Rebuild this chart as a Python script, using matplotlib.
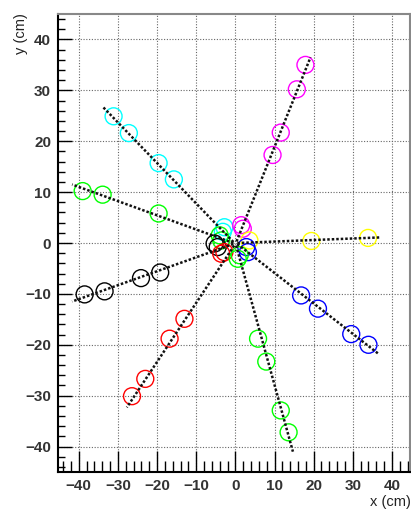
# Track reconstruction view: hit circles per track and fitted track lines

import matplotlib
matplotlib.use("Agg")
import matplotlib.pyplot as plt
from matplotlib.ticker import MultipleLocator

plt.rcParams['font.family'] = ['Liberation Sans', 'DejaVu Sans']

colors = ['cyan', 'lime', 'black', 'red', 'magenta', 'yellow', 'blue', 'lime']

# hits on each track (outer layers)
hit_x = [
    [-31.1, -27.2, -19.6, -15.7],
    [-39.0, -33.9, -19.6],
    [-38.5, -33.4, -24.1, -19.2],
    [-13.0, -16.8, -23.0, -26.4],
    [17.9, 15.7, 11.6, 9.5],
    [19.4, 33.9],
    [16.8, 21.1, 29.6, 34.0],
    [5.8, 7.9, 11.6, 13.6],
]
hit_y = [
    [24.9, 21.6, 15.7, 12.5],
    [10.2, 9.5, 5.8],
    [-10.1, -9.5, -6.9, -5.8],
    [-14.9, -18.8, -26.7, -30.1],
    [35.0, 30.2, 21.7, 17.3],
    [0.4, 1.0],
    [-10.3, -12.9, -17.9, -20.0],
    [-18.8, -23.3, -32.9, -37.2],
]

# hits near the vertex
inner_x = [
    [-2.8, -3.2],
    [-4.0, -3.6],
    [-5.3, -4.5],
    [-3.6, -2.8],
    [1.5, 1.9],
    [3.6],
    [2.8, 3.2],
    [0.6, 1.1],
]
inner_y = [
    [3.1, 2.2],
    [1.5, 0.5],
    [-0.1, -0.8],
    [-2.1, -1.8],
    [3.5, 2.8],
    [0.5],
    [-0.8, -1.8],
    [-3.1, -2.4],
]

# fitted track lines, from the vertex out
line_x0 = [-0.5, -0.5, -0.5, -0.3, 0.3, 0.5, 0.5, 0.2]
line_y0 = [0.2, 0.0, -0.2, -0.5, 0.3, 0.0, -0.2, -0.5]
line_x1 = [-33.9, -41.7, -41.7, -27.7, 19.2, 37.1, 36.6, 14.7]
line_y1 = [26.8, 11.5, -11.5, -32.3, 36.5, 1.1, -21.8, -41.0]

fig = plt.figure(figsize=(4.11, 5.11), dpi=100)
ax = fig.add_axes([0.1411, 0.0763, 0.8564, 0.8963])

for i, c in enumerate(colors):
    ax.scatter(hit_x[i] + inner_x[i], hit_y[i] + inner_y[i], s=12.2**2,
               facecolors='none', edgecolors=c, linewidths=1.0, zorder=3)
    ax.plot([line_x0[i], line_x1[i]], [line_y0[i], line_y1[i]], color='#111111',
            linewidth=1.8, linestyle=(0, (1, 0.8)), zorder=4)

ax.set_xlim(-45.3, 44.6)
ax.set_ylim(-45, 45)

ax.xaxis.set_major_locator(MultipleLocator(10))
ax.xaxis.set_minor_locator(MultipleLocator(2))
ax.yaxis.set_major_locator(MultipleLocator(10))
ax.yaxis.set_minor_locator(MultipleLocator(2))
ax.tick_params(axis='x', which='major', direction='in', length=15, width=1,
               labelsize=11, pad=5)
ax.tick_params(axis='x', which='minor', direction='in', length=8, width=1)
ax.tick_params(axis='y', which='major', direction='in', length=10, width=1,
               labelsize=11, pad=5)
ax.tick_params(axis='y', which='minor', direction='in', length=5, width=1)
for lab in ax.get_xticklabels() + ax.get_yticklabels():
    lab.set_fontweight('bold')
    lab.set_color('#333333')

ax.grid(True, which='major', color='#666666', linestyle=(0, (1, 1.5)), linewidth=0.8)
ax.set_axisbelow(True)

ax.spines['left'].set_color('black')
ax.spines['bottom'].set_color('black')
ax.spines['top'].set_color('#888888')
ax.spines['right'].set_color('#888888')
for s in ax.spines.values():
    s.set_linewidth(1.5)

fig.text(0.052, 0.975, 'y (cm)', rotation=90, ha='center', va='top', fontsize=10.5,
         color='#222222')
fig.text(0.999, 0.004, 'x (cm)', ha='right', va='bottom', fontsize=10.5,
         color='#222222')

fig.savefig('out.png', dpi=100)
